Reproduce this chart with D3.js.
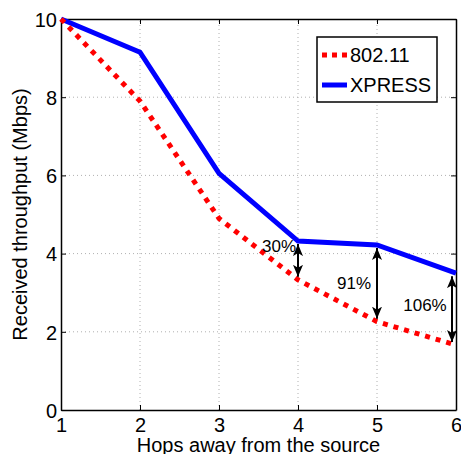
<!DOCTYPE html>
<html>
<head>
<meta charset="utf-8">
<script src="https://cdn.jsdelivr.net/npm/d3@7"></script>
<style>
  body { margin: 0; background: #fff; }
  svg text { font-family: "Liberation Sans", Arial, sans-serif; fill: #000; }
</style>
</head>
<body>
<div id="chart"></div>
<script>
var hops = [1, 2, 3, 4, 5, 6];
var wifi = [10, 7.9, 4.9, 3.33, 2.26, 1.66];
var xpress = [10, 9.15, 6.05, 4.32, 4.22, 3.5];
var xTicks = [1, 2, 3, 4, 5, 6];
var yTicks = [0, 2, 4, 6, 8, 10];
var gainHops = [4, 5, 6];
var gainLabels = ["30%", "91%", "106%"];

var width = 461, height = 454;
var margin = {top: 19, right: 5, bottom: 44, left: 61};

var svg = d3.select("#chart").append("svg")
    .attr("width", width).attr("height", height);

var x = d3.scaleLinear().domain([1, 6]).range([margin.left, width - margin.right]);
var y = d3.scaleLinear().domain([0, 10]).range([height - margin.bottom, margin.top]);

// grid
svg.append("g").selectAll("line.gx").data(xTicks.slice(1, -1)).enter().append("line")
    .attr("x1", function (d) { return x(d); }).attr("x2", function (d) { return x(d); })
    .attr("y1", y(0)).attr("y2", y(10))
    .attr("stroke", "#b0b0b0").attr("stroke-width", 1).attr("stroke-dasharray", "1,3");
svg.append("g").selectAll("line.gy").data(yTicks.slice(1, -1)).enter().append("line")
    .attr("y1", function (d) { return y(d); }).attr("y2", function (d) { return y(d); })
    .attr("x1", x(1)).attr("x2", x(6))
    .attr("stroke", "#b0b0b0").attr("stroke-width", 1).attr("stroke-dasharray", "1,3");

// axes
var fmt = d3.format("d");
var xAxis = svg.append("g").attr("transform", "translate(0," + y(0) + ")")
    .call(d3.axisBottom(x).tickValues(xTicks).tickFormat(fmt).tickSizeInner(-5).tickSizeOuter(0).tickPadding(8));
var yAxis = svg.append("g").attr("transform", "translate(" + x(1) + ",0)")
    .call(d3.axisLeft(y).tickValues(yTicks).tickFormat(fmt).tickSizeInner(-5).tickSizeOuter(0).tickPadding(4));
svg.append("g").attr("transform", "translate(0," + y(10) + ")")
    .call(d3.axisTop(x).tickValues(xTicks).tickSizeInner(-5).tickSizeOuter(0).tickFormat(""));
svg.append("g").attr("transform", "translate(" + x(6) + ",0)")
    .call(d3.axisRight(y).tickValues(yTicks).tickSizeInner(-5).tickSizeOuter(0).tickFormat(""));
svg.selectAll(".domain").attr("stroke", "#000").attr("stroke-width", 1.5);
svg.selectAll(".tick line").attr("stroke", "#000");
svg.selectAll(".tick text").attr("font-size", null).style("font-size", "20px")
    .style("font-family", "Liberation Sans, Arial, sans-serif");
yAxis.selectAll(".tick text").attr("dy", "0.36em");

// lines
var line = function (vals) {
    return d3.line().x(function (d, i) { return x(hops[i]); }).y(function (d) { return y(d); })(vals);
};
svg.append("path").attr("d", line(xpress)).attr("fill", "none")
    .attr("stroke", "#0000ff").attr("stroke-width", 5).attr("stroke-linejoin", "miter");
svg.append("path").attr("d", line(wifi)).attr("fill", "none")
    .attr("stroke", "#ff0000").attr("stroke-width", 5).attr("stroke-dasharray", "5,6");

// arrows
var defs = svg.append("defs");
defs.append("marker").attr("id", "ah").attr("viewBox", "0 0 12 12")
    .attr("refX", 12).attr("refY", 6).attr("markerWidth", 12).attr("markerHeight", 12)
    .attr("markerUnits", "userSpaceOnUse").attr("orient", "auto-start-reverse")
    .append("path").attr("d", "M0,1 L12,6 L0,11 L3,6 Z").attr("fill", "#000");

var labelPos = [
    {dx: -19, vy: 4.2},
    {dx: -23, vy: 3.25},
    {dx: -27, vy: 2.7}
];
gainHops.forEach(function (h, k) {
    var i = hops.indexOf(h);
    var ax = x(h) - (h === 6 ? 4 : 0);
    svg.append("line")
        .attr("x1", ax).attr("x2", ax)
        .attr("y1", y(xpress[i]) + 3).attr("y2", y(wifi[i]) - 3)
        .attr("stroke", "#000").attr("stroke-width", 2)
        .attr("marker-start", "url(#ah)").attr("marker-end", "url(#ah)");
    svg.append("text").attr("x", ax + labelPos[k].dx).attr("y", y(labelPos[k].vy))
        .attr("text-anchor", "middle").attr("dy", "0.36em")
        .style("font-size", "17px").text(gainLabels[k]);
});

// axis labels
svg.append("text").attr("x", (x(1) + x(6)) / 2).attr("y", 452)
    .attr("text-anchor", "middle").style("font-size", "20px").text("Hops away from the source");
svg.append("text").attr("transform", "translate(27," + (y(5)) + ") rotate(-90)")
    .attr("text-anchor", "middle").style("font-size", "20px").text("Received throughput (Mbps)");

// legend
var lg = svg.append("g").attr("transform", "translate(317,37)");
lg.append("rect").attr("width", 120).attr("height", 65)
    .attr("fill", "#fff").attr("stroke", "#000").attr("stroke-width", 1.5);
lg.append("line").attr("x1", 5).attr("x2", 30).attr("y1", 18).attr("y2", 18)
    .attr("stroke", "#ff0000").attr("stroke-width", 5).attr("stroke-dasharray", "5,5");
lg.append("text").attr("x", 33).attr("y", 18).attr("dy", "0.36em").style("font-size", "20px").text("802.11");
lg.append("line").attr("x1", 5).attr("x2", 30).attr("y1", 48).attr("y2", 48)
    .attr("stroke", "#0000ff").attr("stroke-width", 5);
lg.append("text").attr("x", 33).attr("y", 48).attr("dy", "0.36em").style("font-size", "20px").text("XPRESS");
</script>
</body>
</html>
